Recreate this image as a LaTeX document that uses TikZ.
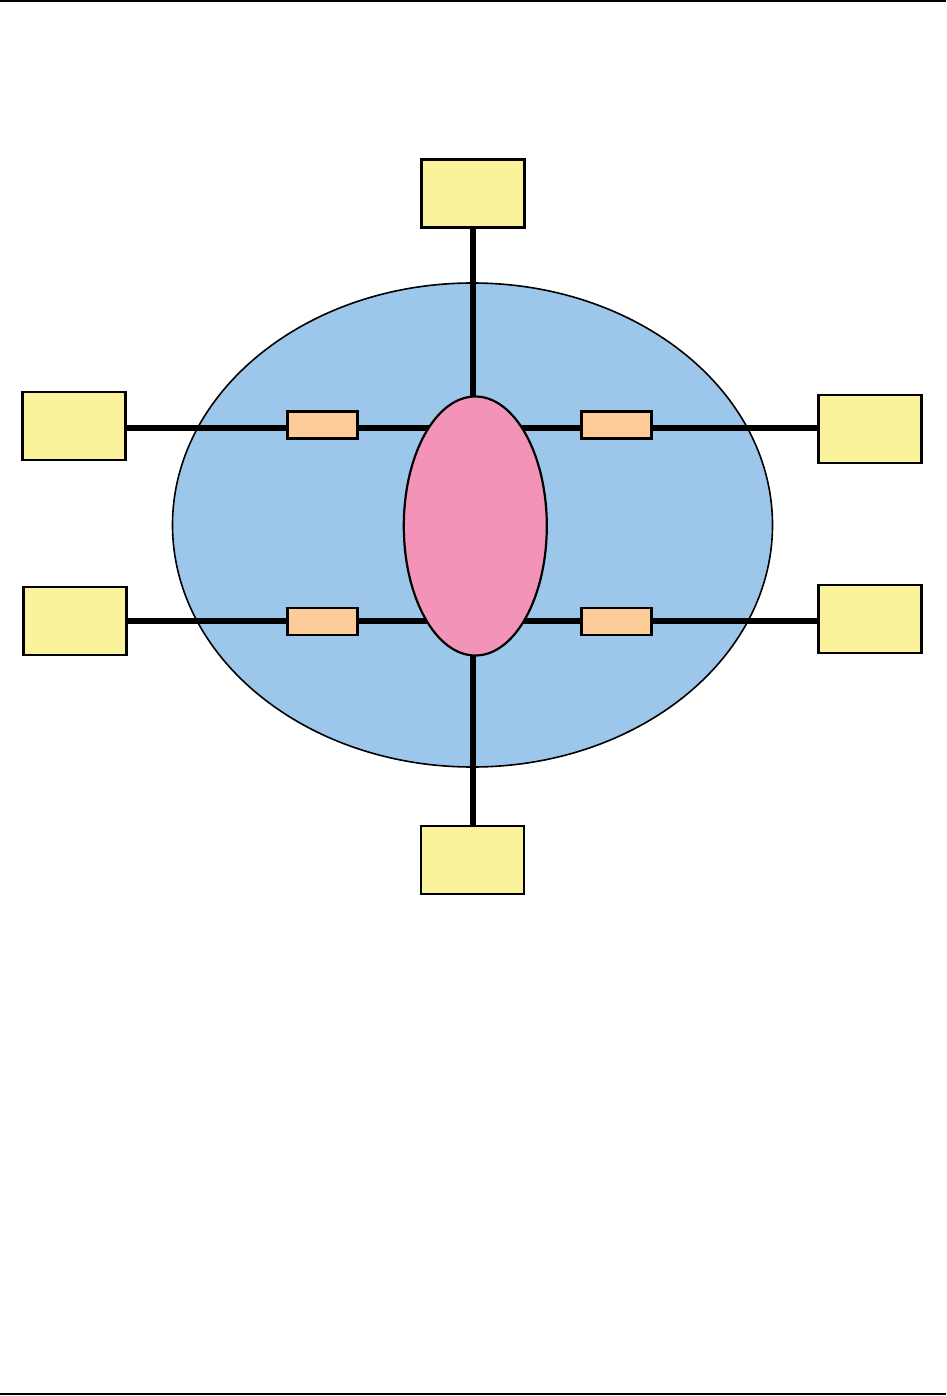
\documentclass[tikz,border=0pt]{standalone}
\usetikzlibrary{shapes.geometric}
\definecolor{ybox}{RGB}{250,243,156}
\definecolor{bluefill}{RGB}{157,199,234}
\definecolor{pinkfill}{RGB}{243,147,184}
\definecolor{orfill}{RGB}{254,204,153}
\tikzset{
  ybox/.style={draw=black,line width=2.3pt,fill=ybox,rectangle,minimum width=103pt,minimum height=68pt,inner sep=0pt},
  obox/.style={draw=black,line width=2.1pt,fill=orfill,rectangle,minimum width=70pt,minimum height=27pt,inner sep=0pt},
  wire/.style={line width=5.8pt,draw=black},
  frame/.style={line width=2.2pt,draw=black}
}
\begin{document}
\begin{tikzpicture}[x=1pt,y=-1pt]
\useasboundingbox (0,0) rectangle (946,1396);
% frame lines
\coordinate (tl) at (0,1);
\coordinate (tr) at (946,1);
\coordinate (bl) at (0,1394);
\coordinate (br) at (946,1394);
\draw[frame] (tl) -- (tr);
\draw[frame] (bl) -- (br);
% big ellipse
\node[ellipse,draw=black,line width=1.6pt,fill=bluefill,minimum width=600pt,minimum height=484pt,inner sep=0pt] (big) at (472.5,525) {};
% yellow boxes
\node[ybox] (top) at (473,193.5) {};
\node[ybox] (bot) at (472.5,860.3) {};
\node[ybox] (lu) at (73.9,426.3) {};
\node[ybox] (ll) at (75,621.3) {};
\node[ybox] (ru) at (870,429) {};
\node[ybox] (rl) at (870,619.3) {};
\coordinate (hu) at (473,427.7);
\coordinate (hl) at (473,620.7);
% connectors
\draw[wire] (top.south) -- (top.south |- bot.north);
\draw[wire] (lu.east |- hu) -- (ru.west |- hu);
\draw[wire] (ll.east |- hl) -- (rl.west |- hl);
% orange boxes on the connectors
\node[obox] (oul) at (322.5,425) {};
\node[obox] (our) at (616.5,425) {};
\node[obox] (oll) at (322.5,621.8) {};
\node[obox] (olr) at (616.5,621.8) {};
% pink ellipse
\node[ellipse,draw=black,line width=2.2pt,fill=pinkfill,minimum width=143pt,minimum height=259pt,inner sep=0pt] (core) at (475.3,526) {};
\end{tikzpicture}
\end{document}
